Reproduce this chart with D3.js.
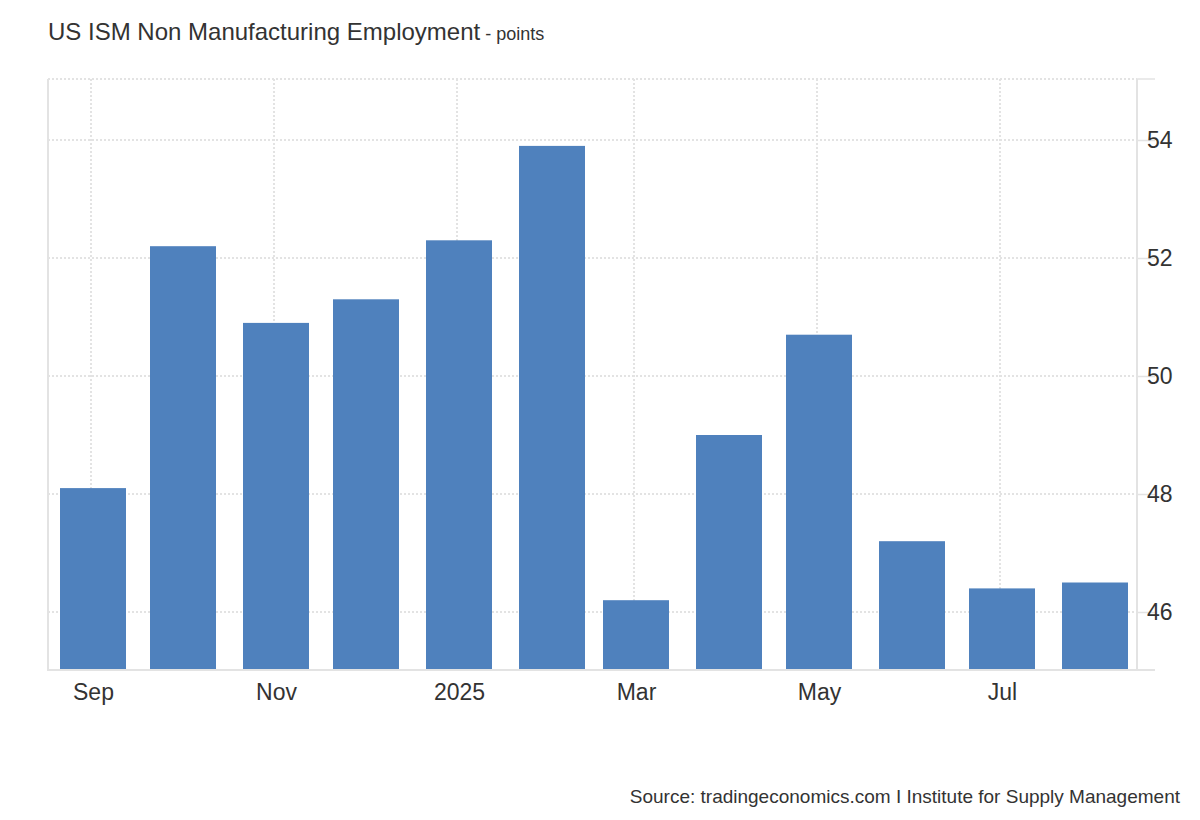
<!DOCTYPE html>
<html><head><meta charset="utf-8">
<script src="https://cdn.jsdelivr.net/npm/d3@7"></script>
<style>
body{margin:0;background:#fff;font-family:"Liberation Sans",Arial,Helvetica,sans-serif;}
</style></head>
<body>
<svg id="c" width="1200" height="820"></svg>
<script>
const months = ["2024-09-01","2024-10-01","2024-11-01","2024-12-01","2025-01-01","2025-02-01","2025-03-01","2025-04-01","2025-05-01","2025-06-01","2025-07-01","2025-08-01"];
const values = [48.1, 52.2, 50.9, 51.3, 52.3, 53.9, 46.2, 49.0, 50.7, 47.2, 46.4, 46.5];
const yTicks = [46, 48, 50, 52, 54];
const xTickDates = ["2024-09-01","2024-11-01","2025-01-01","2025-03-01","2025-05-01","2025-07-01"];
const xTickLabels = ["Sep","Nov","2025","Mar","May","Jul"];

const parse = d3.utcParse("%Y-%m-%d");
const dates = months.map(parse);
const svg = d3.select("#c");
const L = 48, R = 1137, T = 79, B = 670;
const x = d3.scaleUtc()
  .domain([d3.utcDay.offset(dates[0], -15), d3.utcDay.offset(dates[dates.length-1], 14)])
  .range([L, R]);
const y = d3.scaleLinear().domain([45, 55]).range([671, 81]);
const grid = "#e3e3e3";

// horizontal grid
svg.append("g").selectAll("line").data(yTicks).join("line")
  .attr("x1", L).attr("x2", R).attr("y1", d => y(d)).attr("y2", d => y(d))
  .attr("stroke", grid).attr("stroke-width", 2).attr("stroke-dasharray", "2,2");
svg.append("line").attr("x1", L).attr("x2", R).attr("y1", T).attr("y2", T)
  .attr("stroke", grid).attr("stroke-width", 2).attr("stroke-dasharray", "2,2");
// vertical grid
svg.append("g").selectAll("line").data(xTickDates.map(parse)).join("line")
  .attr("x1", d => x(d) - 2).attr("x2", d => x(d) - 2).attr("y1", T).attr("y2", B)
  .attr("stroke", grid).attr("stroke-width", 2).attr("stroke-dasharray", "2,2");

// bars
const bw = 66;
svg.append("g").selectAll("rect").data(values).join("rect")
  .attr("x", (d, i) => x(dates[i]) - bw / 2)
  .attr("width", bw)
  .attr("y", d => y(d))
  .attr("height", d => B - y(d))
  .attr("fill", "#4f81bd");

// axis lines
svg.append("line").attr("x1", L).attr("x2", L).attr("y1", T).attr("y2", B + 1)
  .attr("stroke", "#e3e3e3").attr("stroke-width", 2);
svg.append("line").attr("x1", R).attr("x2", R).attr("y1", T).attr("y2", B + 1)
  .attr("stroke", "#e3e3e3").attr("stroke-width", 2);
svg.append("line").attr("x1", L).attr("x2", R + 18).attr("y1", B).attr("y2", B)
  .attr("stroke", "#e3e3e3").attr("stroke-width", 2);
svg.append("line").attr("x1", R).attr("x2", R + 18).attr("y1", T).attr("y2", T)
  .attr("stroke", "#e3e3e3").attr("stroke-width", 1.5);

// right axis
const yAxis = d3.axisRight(y).tickValues(yTicks).tickSize(18).tickPadding(0)
  .tickFormat(d3.format("d"));
const ga = svg.append("g").attr("transform", `translate(${R},0)`).call(yAxis);
ga.select(".domain").remove();
ga.selectAll(".tick line").attr("stroke", "#e3e3e3").attr("stroke-width", 1.5);
ga.selectAll(".tick text").attr("x", 10).attr("fill", "#333")
  .attr("font-size", 23).attr("font-family", "Liberation Sans, Arial, sans-serif");

// x axis labels
const xAxis = d3.axisBottom(x).tickValues(xTickDates.map(parse)).tickSize(0).tickPadding(0)
  .tickFormat((d, i) => xTickLabels[i]);
const gx = svg.append("g").attr("transform", `translate(0,${B})`).call(xAxis);
gx.select(".domain").remove();
gx.selectAll(".tick text").attr("dy", 0).attr("y", 30).attr("fill", "#333")
  .attr("font-size", 23).attr("font-family", "Liberation Sans, Arial, sans-serif");

// title
const t = svg.append("text").attr("x", 48).attr("y", 40).attr("fill", "#333");
t.append("tspan").attr("font-size", 24).text("US ISM Non Manufacturing Employment");
t.append("tspan").attr("font-size", 18).text(" - points");

// source
svg.append("text").attr("x", 1180).attr("y", 803).attr("text-anchor", "end")
  .attr("font-size", 19).attr("fill", "#333")
  .text("Source: tradingeconomics.com I Institute for Supply Management");
</script>
</body></html>
